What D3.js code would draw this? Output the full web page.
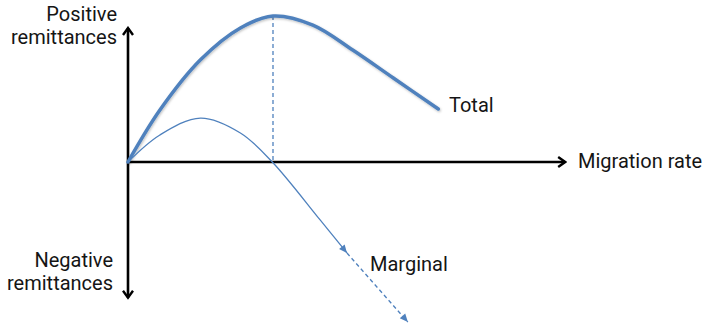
<!DOCTYPE html>
<html>
<head>
<meta charset="utf-8">
<script src="https://cdn.jsdelivr.net/npm/d3@7/dist/d3.min.js"></script>
<style>
  html, body { margin: 0; padding: 0; background: #fff; }
  svg { display: block; }
  text { font-family: Roboto, "Open Sans", sans-serif; fill: #151515; }
</style>
</head>
<body>
<svg id="chart" width="707" height="326"></svg>
<script>
// Conceptual data (migration rate vs remittances)
const totalX = [0, 0.44, 1.0, 1.55, 2.0, 2.55, 3.1, 3.66, 4.28];
const totalY = [0, 3.56, 7.0, 9.18, 10, 9.38, 7.67, 5.75, 3.63];
const marginalX = [0, 0.44, 1.0, 1.55, 1.99, 2.65, 3.02];
const marginalY = [0, 1.85, 3.01, 1.99, 0, -3.97, -6.23];
const marginalExtX = [3.02, 3.86];
const marginalExtY = [-6.23, -10.96];
const peakX = 2.0, peakY = 10;
const axisLabels = { x: "Migration rate", yPos: ["Positive", "remittances"], yNeg: ["Negative", "remittances"] };
const seriesLabels = ["Total", "Marginal"];

const svg = d3.select("#chart");
const x = d3.scaleLinear().domain([0, 6]).range([128, 563]);
const y = d3.scaleLinear().domain([-10, 10]).range([308, 16]);

const blue = "#4f81bd";
const defs = svg.append("defs");
function chevron(id, color, w) {
  defs.append("marker").attr("id", id).attr("viewBox", "-10 -6 12 12")
    .attr("refX", 0).attr("refY", 0).attr("markerWidth", 12).attr("markerHeight", 12)
    .attr("markerUnits", "userSpaceOnUse").attr("orient", "auto-start-reverse")
    .append("path").attr("d", "M-7,-5 L0,0 L-7,5").attr("fill", "none")
    .attr("stroke", color).attr("stroke-width", w).attr("stroke-linejoin", "miter");
}
chevron("axArrow", "#000", 2.4);
defs.append("marker").attr("id", "tri").attr("viewBox", "-10 -5 10 10")
  .attr("refX", 0).attr("refY", 0).attr("markerWidth", 9).attr("markerHeight", 9)
  .attr("markerUnits", "userSpaceOnUse").attr("orient", "auto")
  .append("path").attr("d", "M-9,-4 L0,0 L-9,4 Z").attr("fill", blue);
const f = defs.append("filter").attr("id", "shadow").attr("x", "-10%").attr("y", "-10%").attr("width", "120%").attr("height", "130%");
f.append("feDropShadow").attr("dx", 0.8).attr("dy", 1.2).attr("stdDeviation", 1).attr("flood-color", "#000").attr("flood-opacity", 0.25);

// Axes
svg.append("line").attr("x1", x(0)).attr("x2", x(0)).attr("y1", y(-9.3)).attr("y2", y(9.18))
  .attr("stroke", "#000").attr("stroke-width", 2.6)
  .attr("marker-start", "url(#axArrow)").attr("marker-end", "url(#axArrow)");
svg.append("line").attr("x1", x(0)).attr("x2", x(6.03)).attr("y1", y(0)).attr("y2", y(0))
  .attr("stroke", "#000").attr("stroke-width", 2.6)
  .attr("marker-end", "url(#axArrow)");

// Dashed vertical at peak
svg.append("line").attr("x1", x(peakX)).attr("x2", x(peakX)).attr("y1", y(peakY)).attr("y2", y(0))
  .attr("stroke", blue).attr("stroke-width", 1.3).attr("stroke-dasharray", "4,3");

const line = d3.line().x(d => x(d[0])).y(d => y(d[1])).curve(d3.curveCatmullRom.alpha(0.5));

// Total
svg.append("path").datum(d3.zip(totalX, totalY)).attr("d", line)
  .attr("fill", "none").attr("stroke", blue).attr("stroke-width", 3.5)
  .attr("stroke-linecap", "round")
  .attr("filter", "url(#shadow)");

// Marginal solid
svg.append("path").datum(d3.zip(marginalX, marginalY)).attr("d", line)
  .attr("fill", "none").attr("stroke", blue).attr("stroke-width", 1.3)
  .attr("marker-end", "url(#tri)");
// Marginal dashed extension
svg.append("path").datum(d3.zip(marginalExtX, marginalExtY)).attr("d", d3.line().x(d => x(d[0])).y(d => y(d[1])))
  .attr("fill", "none").attr("stroke", blue).attr("stroke-width", 1.3).attr("stroke-dasharray", "4,3")
  .attr("marker-end", "url(#tri)");

// Labels (baselines)
const fs = 20;
function multi(lines, xr, yb) {
  lines.forEach((s, i) => svg.append("text").attr("text-anchor", "end").attr("font-size", fs)
    .attr("x", xr).attr("y", yb + i * 23.6).text(s));
}
multi(axisLabels.yPos, 117, 20.7);
multi(axisLabels.yNeg, 113, 266.7);
svg.append("text").attr("x", 578).attr("y", 168.3).attr("font-size", fs).text(axisLabels.x);
svg.append("text").attr("x", 449).attr("y", 111.7).attr("font-size", fs).text(seriesLabels[0]);
svg.append("text").attr("x", 370).attr("y", 270.7).attr("font-size", fs).text(seriesLabels[1]);
</script>
</body>
</html>
